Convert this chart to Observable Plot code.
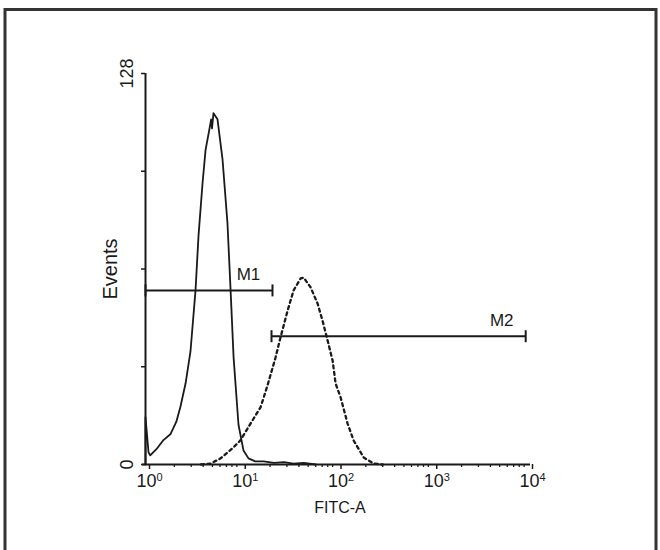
<!DOCTYPE html>
<html><head><meta charset="utf-8">
<script src="https://cdn.jsdelivr.net/npm/d3@7"></script>
<script src="https://cdn.jsdelivr.net/npm/@observablehq/plot@0.6"></script>
<style>body{margin:0;background:#fff} svg{display:block}</style>
</head><body><div id="chart"></div>
<script>
// Solid histogram (unstained / control)
const solidX = [1.0, 1.0, 1.075, 1.12, 1.3, 1.54, 1.83, 2.1, 2.32, 2.62, 2.95, 3.33, 3.58, 3.94, 4.24, 4.6, 4.85, 4.95, 5.13, 5.65, 6.37, 7.18, 7.74, 8.32, 9.36, 10.55, 11.9, 14, 17.1, 22, 28, 35, 45, 60];
const solidY = [0, 15.5, 4, 3, 5, 8, 10, 14, 19, 26.5, 37, 57, 75, 92, 103, 109, 113, 110, 115, 113, 100, 79, 57, 35, 13, 4.6, 2, 1, 1, 0.5, 0.8, 0.3, 0.5, 0];
// Dashed histogram (stained)
const dashedX = [3.8, 4.78, 6.08, 8.3, 9.8, 12.5, 15.9, 18.8, 22.8, 25.7, 30.5, 35.2, 41.7, 44.8, 53, 62.7, 70.7, 79.8, 90, 96.7, 109, 129, 149, 190, 241, 300];
const dashedY = [0, 0.3, 2, 5.6, 7.9, 13.4, 18.7, 25.9, 35, 41.6, 50.4, 57, 60.9, 61.2, 58, 52.7, 47, 40.6, 34, 26.5, 22, 13.4, 7.9, 2.3, 0.3, 0];
// Gate markers
const markerNames = ["M1", "M2"];
const markerStart = [1, 20.7];
const markerEnd = [21.2, 9350];
const markerLevel = [57, 42];
// Axes
const xMajorTicks = [1, 10, 100, 1000, 10000];
const xTickBase = "10";
const xTickExponents = ["0", "1", "2", "3", "4"];
const xMinorTicks = [2,3,4,5,6,7,8,9,20,30,40,50,60,70,80,90,200,300,400,500,600,700,800,900,2000,3000,4000,5000,6000,7000,8000,9000];
const yTicks = [0, 32, 64, 96, 128];
const yLabelTicks = [0, 128];
const xLabel = "FITC-A";
const yLabel = "Events";

const solid = solidX.map((x, i) => ({x, y: solidY[i]}));
const dashed = dashedX.map((x, i) => ({x, y: dashedY[i]}));
const markers = markerNames.map((name, i) => ({name, x1: markerStart[i], x2: markerEnd[i], y: markerLevel[i]}));
const caps = markers.flatMap(m => [{x: m.x1, y: m.y}, {x: m.x2, y: m.y}]);
const capSymbol = {draw(ctx, size) { const r = Math.sqrt(size / Math.PI); ctx.moveTo(0, -r); ctx.lineTo(0, r); }};
const ink = "#1a1a1a";
const font = "'Liberation Sans', Arial, sans-serif";

const svg = Plot.plot({
  width: 660, height: 550,
  marginLeft: 145, marginRight: 132, marginTop: 73, marginBottom: 86,
  style: {fontFamily: font, fontSize: "16px", background: "#fff", color: ink},
  x: {type: "log", domain: [1, 10000]},
  y: {domain: [0, 128]},
  marks: [
    Plot.axisX({ticks: xMinorTicks, tickSize: 3, tickFormat: () => "", label: null, stroke: ink, strokeWidth: 1.3}),
    Plot.axisX({ticks: xMajorTicks, tickSize: 5, tickPadding: 5, tickFormat: d => xTickBase + "^" + xTickExponents[xMajorTicks.indexOf(d)], label: null, fontSize: 18, dx: 4, stroke: ink, strokeWidth: 1.5, fill: ink}),
    Plot.axisY({ticks: yTicks, tickSize: 4, tickFormat: () => "", label: null, stroke: ink, strokeWidth: 1.5}),
    Plot.ruleY([0], {stroke: ink, strokeWidth: 2, insetLeft: -3, insetRight: -2}),
    Plot.ruleX([1], {stroke: ink, strokeWidth: 2}),
    Plot.text(yLabelTicks, {y: d => d, frameAnchor: "left", text: d => String(d), dx: -18, rotate: -90, fontSize: 18, textAnchor: "middle", lineAnchor: "middle", fill: ink}),
    Plot.text([yLabel], {frameAnchor: "left", dx: -35, rotate: -90, fontSize: 20, textAnchor: "middle", lineAnchor: "middle", fill: ink}),
    Plot.text([xLabel], {frameAnchor: "bottom", dx: 3, dy: 43, fontSize: 16, textAnchor: "middle", lineAnchor: "middle", fill: ink}),
    Plot.line(dashed, {x: "x", y: "y", stroke: ink, strokeWidth: 2.3, strokeDasharray: "3,3.5"}),
    Plot.line(solid, {x: "x", y: "y", stroke: ink, strokeWidth: 1.8}),
    Plot.ruleY(markers, {y: "y", x1: "x1", x2: "x2", stroke: ink, strokeWidth: 2}),
    Plot.dot(caps, {x: "x", y: "y", symbol: capSymbol, r: 6, stroke: ink, strokeWidth: 2, fill: "none"}),
    Plot.text(markers, {x: "x2", y: "y", text: "name", dx: -24, dy: -16, fontSize: 17, fill: ink, textAnchor: "middle"})
  ]
});

// Render "10^n" tick labels with a real superscript
d3.select(svg).selectAll("text").each(function() {
  const t = this.textContent;
  const m = /^(\d+)\^(\d+)$/.exec(t);
  if (!m) return;
  const el = d3.select(this);
  el.text(m[1]);
  el.append("tspan").attr("dy", "-0.55em").attr("font-size", "11px").text(m[2]);
});

d3.select(svg).append("rect")
  .attr("x", 5).attr("y", 9.5).attr("width", 651).attr("height", 600)
  .attr("fill", "none").attr("stroke", "#333").attr("stroke-width", 3);

document.getElementById("chart").appendChild(svg);
</script>
</body></html>
